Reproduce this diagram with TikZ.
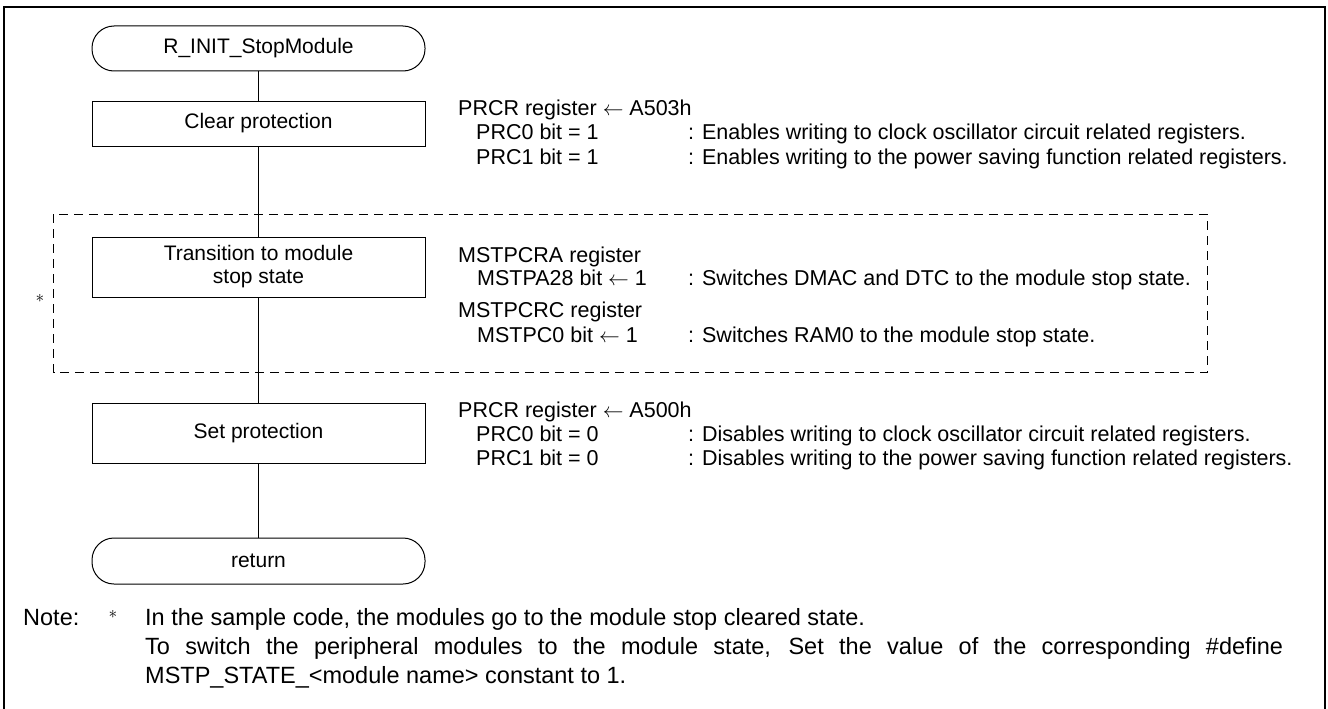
\documentclass[tikz,border=0pt]{standalone}
\usepackage{fontspec}
\setmainfont{Liberation Sans}
\newcommand\boxfont{\fontsize{21}{23}\selectfont}
\newcommand\regfont{\fontsize{21.5}{24}\selectfont}
\newcommand\notefont{\fontsize{23.5}{29}\selectfont}
\newcommand\starfont{\fontsize{19}{19}\selectfont}
\tikzset{
  flowline/.style={line width=1pt},
  term/.style={draw, line width=1pt, rounded corners=22pt, minimum width=333pt,
    minimum height=45pt, inner sep=0pt, font=\boxfont},
  proc/.style={draw, line width=1pt, minimum width=333pt, inner sep=0pt,
    font=\boxfont, align=center},
  reg/.style={anchor=base west, inner sep=0pt, font=\regfont},
  note/.style={anchor=base west, inner sep=0pt, font=\notefont},
  star/.style={inner sep=0pt, font=\starfont},
  groupframe/.style={line width=1pt, dash pattern=on 9pt off 6pt},
}
\begin{document}
\begin{tikzpicture}[x=1pt, y=-1pt]
  \clip (0,0) rectangle (1328,709);
  \fill[white] (0,0) rectangle (1328,709);

  % outer frame (open at the bottom)
  \draw[line width=2.5pt] (4,720) -- (4,7) -- (1325,7) -- (1325,720);

  % dashed group around the module-stop step
  \draw[groupframe] (53.5,214) rectangle (1207,372.5);
  \node[star] (gstar) at (40,298) {$\ast$};

  % flowchart
  \node[term] (start) at (258.5,48.5) {R\_INIT\_StopModule};
  \node[proc, minimum height=45pt] (clr) at (258.5,123.5) {Clear protection};
  \node[proc, minimum height=60pt] (mstp) at (258.5,267) {Transition to module\\stop state};
  \node[proc, minimum height=60pt] (setp) at (258.5,433) {Set protection};
  \node[term, minimum height=46pt] (ret) at (258.5,561) {return};

  \draw[flowline] (start) -- (clr);
  \draw[flowline] (clr) -- (mstp);
  \draw[flowline] (mstp) -- (setp);
  \draw[flowline] (setp) -- (ret);

  % register notes: clear protection
  \node[reg] (r1) at (458,115) {PRCR register $\leftarrow$ A503h};
  \node[reg] (r1a) at (476,139) {PRC0 bit = 1};
  \node[reg] (r1b) at (476,164) {PRC1 bit = 1};
  \node[reg] (d1a) at (688,139) {: Enables writing to clock oscillator circuit related registers.};
  \node[reg] (d1b) at (688,164) {: Enables writing to the power saving function related registers.};

  % register notes: module stop
  \node[reg] (r2) at (458,262) {MSTPCRA register};
  \node[reg] (r2a) at (477,285) {MSTPA28 bit $\leftarrow$ 1};
  \node[reg] (d2a) at (688,285) {: Switches DMAC and DTC to the module stop state.};
  \node[reg] (r3) at (458,317) {MSTPCRC register};
  \node[reg] (r3a) at (477,342) {MSTPC0 bit $\leftarrow$ 1};
  \node[reg] (d3a) at (688,342) {: Switches RAM0 to the module stop state.};

  % register notes: set protection
  \node[reg] (r4) at (458,417) {PRCR register $\leftarrow$ A500h};
  \node[reg] (r4a) at (476,441) {PRC0 bit = 0};
  \node[reg] (r4b) at (476,465) {PRC1 bit = 0};
  \node[reg] (d4a) at (688,441) {: Disables writing to clock oscillator circuit related registers.};
  \node[reg] (d4b) at (688,465) {: Disables writing to the power saving function related registers.};

  % footnote
  \node[note] (nlabel) at (23,625) {Note:};
  \node[star] (nstar) at (113,614) {$\ast$};
  \node[note] (n1) at (145,625) {In the sample code, the modules go to the module stop cleared state.};
  \node[note] (n2) at (145,654) {\makebox[1138pt][s]{To switch the peripheral modules to the module state, Set the value of the corresponding \#define}};
  \node[note] (n3) at (145,683) {MSTP\_STATE\_<module name> constant to 1.};
\end{tikzpicture}
\end{document}
